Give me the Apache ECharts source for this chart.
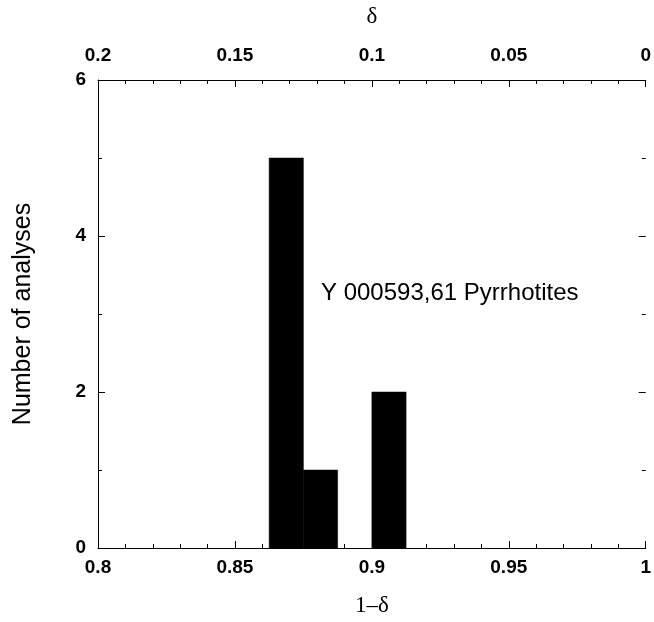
<!DOCTYPE html>
<html>
<head>
    <meta charset="utf-8" />
    <title>Pyrrhotites</title>
    <script src="https://cdn.jsdelivr.net/npm/echarts@6/dist/echarts.min.js"></script>
    <style>
        html, body { margin: 0; padding: 0; background: #fff; }
        #main { width: 654px; height: 622px; }
    </style>
</head>
<body>
    <div id="main"></div>
    <script>
        // bins of 1-δ, width 0.0125
        const binStart = [0.8625, 0.875, 0.9];
        const binEnd = [0.875, 0.8875, 0.9125];
        const counts = [5, 1, 2];
        const noteText = 'Y 000593,61 Pyrrhotites';

        const histData = binStart.map((s, i) => [s, binEnd[i], counts[i]]);

        const tickFont = { fontFamily: 'Liberation Sans, Arial', fontWeight: 'bold', fontSize: 19, color: '#000' };
        const lineBlack = { lineStyle: { color: '#000', width: 1 } };
        const serifName = { fontFamily: 'Liberation Serif, Times New Roman', fontSize: 23, color: '#000' };

        var myChart = echarts.init(document.getElementById('main'));
        option = {
            backgroundColor: '#fff',
            animation: false,
            grid: { left: 98, right: 7, top: 79, bottom: 74 },
            xAxis: [
                {
                    type: 'value', position: 'bottom', min: 0.8, max: 1, interval: 0.05,
                    name: '1\u2013\u03b4', nameLocation: 'middle', nameGap: 46,
                    nameTextStyle: serifName,
                    axisLine: { show: true, onZero: false, ...lineBlack },
                    axisTick: { inside: true, length: 7, ...lineBlack },
                    minorTick: { show: true, splitNumber: 5, length: 4, ...lineBlack },
                    axisLabel: { ...tickFont, margin: 10 },
                    splitLine: { show: false }
                },
                {
                    type: 'value', position: 'top', min: 0, max: 0.2, interval: 0.05, inverse: true,
                    name: '\u03b4', nameLocation: 'middle', nameGap: 52,
                    nameTextStyle: serifName,
                    axisLine: { show: true, onZero: false, ...lineBlack },
                    axisTick: { inside: true, length: 7, ...lineBlack },
                    minorTick: { show: true, splitNumber: 5, length: 4, ...lineBlack },
                    axisLabel: { ...tickFont, margin: 15 },
                    splitLine: { show: false }
                }
            ],
            yAxis: [
                {
                    type: 'value', position: 'left', min: 0, max: 6, interval: 2,
                    name: 'Number of analyses', nameLocation: 'middle', nameGap: 62,
                    nameTextStyle: { fontFamily: 'Liberation Sans, Arial', fontSize: 25, color: '#000' },
                    axisLine: { show: true, onZero: false, ...lineBlack },
                    axisTick: { inside: true, length: 7, ...lineBlack },
                    minorTick: { show: true, splitNumber: 2, length: 4, ...lineBlack },
                    axisLabel: { ...tickFont, margin: 12 },
                    splitLine: { show: false }
                },
                {
                    type: 'value', position: 'right', min: 0, max: 6, interval: 2,
                    axisLine: { show: false, onZero: false },
                    axisTick: { show: true, inside: true, length: 7, ...lineBlack },
                    minorTick: { show: true, splitNumber: 2, length: 4, ...lineBlack },
                    axisLabel: { show: false },
                    splitLine: { show: false }
                }
            ],
            series: [
                {
                    type: 'custom',
                    xAxisIndex: 0,
                    yAxisIndex: 0,
                    data: histData,
                    renderItem: function (params, api) {
                        const p0 = api.coord([api.value(0), api.value(2)]);
                        const p1 = api.coord([api.value(1), 0]);
                        return {
                            type: 'rect',
                            shape: { x: p0[0], y: p0[1], width: p1[0] - p0[0], height: p1[1] - p0[1] },
                            style: { fill: '#000', stroke: '#000', lineWidth: 0.5 }
                        };
                    },
                    encode: { x: [0, 1], y: 2 }
                }
            ],
            graphic: [
                {
                    type: 'text', left: 321, top: 281,
                    style: { text: noteText, fontFamily: 'Liberation Sans, Arial', fontSize: 24, fill: '#000' }
                }
            ]
        };
        myChart.setOption(option);
    </script>
</body>
</html>
